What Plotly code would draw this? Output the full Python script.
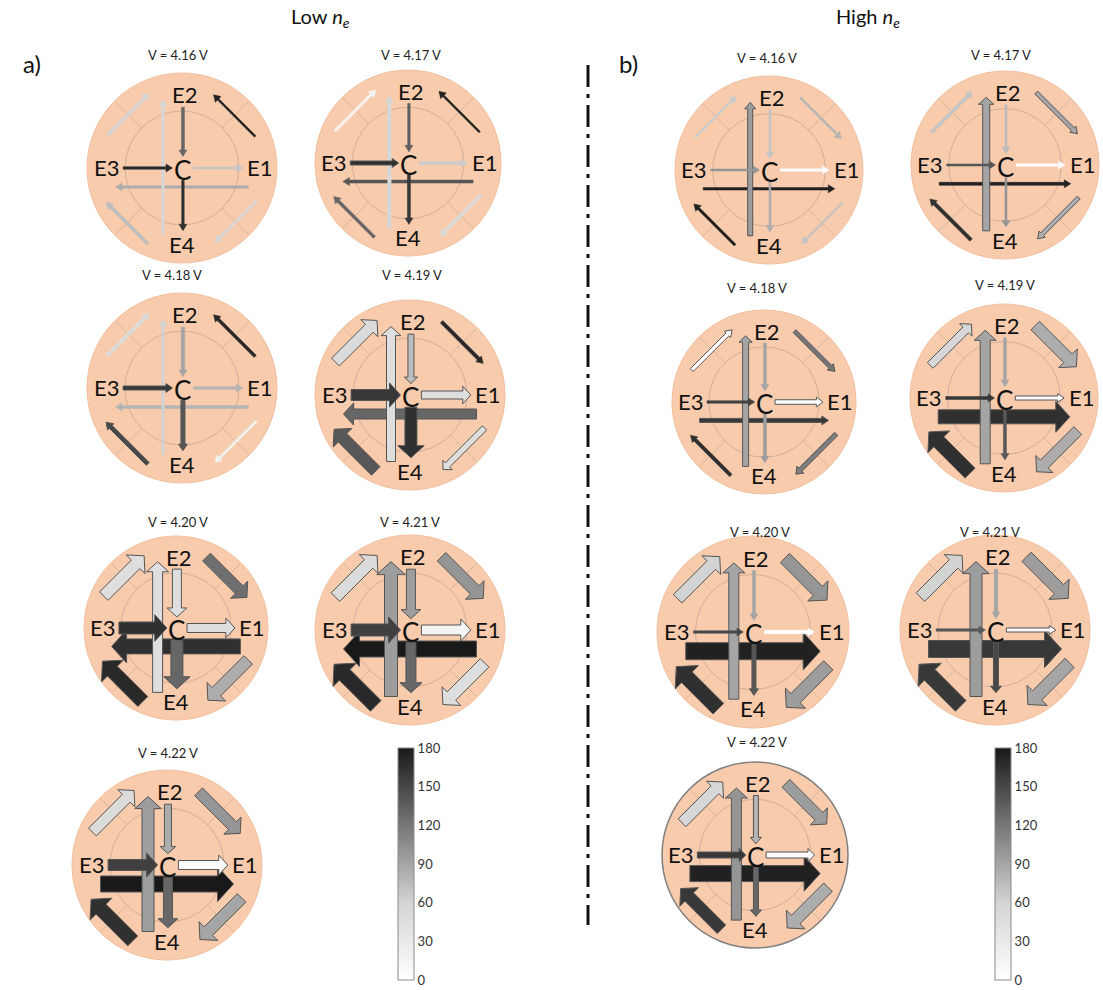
import math
import plotly.graph_objects as go
from plotly.colors import sample_colorscale

# ---------------- data ----------------
voltages = ["4.16", "4.17", "4.18", "4.19", "4.20", "4.21", "4.22"]
arrow_names = ["E3→C", "C→E1", "E2→C", "C→E4", "E1↔E3 (long)", "E4→E2 (long)",
               "E3→E2", "E1↔E2", "E1→E4", "E4→E3"]

# colour value (0-180) of each arrow, one row per voltage
low_values = [
    [170, 70, 130, 165, 85, 55, 60, 175, 55, 75],
    [165, 65, 135, 160, 140, 55, 15, 175, 50, 130],
    [160, 80, 90, 140, 80, 60, 50, 170, 20, 150],
    [160, 45, 75, 165, 130, 45, 50, 170, 45, 140],
    [165, 45, 45, 130, 165, 45, 45, 125, 85, 170],
    [155, 15, 95, 130, 180, 95, 50, 100, 45, 170],
    [155, 5, 85, 130, 180, 95, 50, 100, 90, 165],
]
# arrow thickness (px)
low_widths = [
    [2.5, 2, 3, 2.5, 2.5, 2.5, 3, 2, 2.5, 3],
    [4, 3, 2.5, 3, 3, 3.5, 2.5, 2, 3, 3],
    [4, 2.5, 3.5, 4, 3, 2.5, 3.5, 3, 2.5, 4],
    [11, 8, 6, 12, 10, 9, 11, 3.5, 6, 12],
    [12, 9, 9, 12, 15, 10, 12, 11, 12, 14],
    [12, 10, 9, 10, 16, 13, 12, 12, 12, 15],
    [11, 9, 7, 9, 16, 12, 11, 11, 12, 14],
]
# direction of long horizontal arrow (+1: E3→E1, -1: E1→E3)
low_lh_dir = [-1, -1, -1, -1, -1, -1, 1]
# direction of upper-right arrow (+1: E2→E1, -1: E1→E2)
low_ur_dir = [-1, -1, -1, 1, 1, 1, 1]

high_values = [
    [100, 5, 70, 85, 175, 95, 65, 80, 70, 175],
    [140, 5, 75, 100, 175, 90, 70, 90, 85, 165],
    [155, 0, 90, 95, 160, 90, 0, 120, 115, 165],
    [160, 0, 90, 140, 165, 90, 55, 85, 85, 165],
    [150, 0, 90, 140, 175, 90, 60, 100, 95, 165],
    [140, 5, 90, 150, 160, 95, 60, 95, 90, 160],
    [160, 5, 80, 130, 175, 100, 55, 95, 85, 160],
]
high_widths = [
    [2, 2.5, 2, 2, 2.5, 5, 2, 2, 2, 2.5],
    [2, 2.5, 2, 2, 3, 7, 3, 4, 4, 3.5],
    [2.5, 4.5, 3, 3, 4, 6, 4, 4, 4.5, 3.5],
    [3, 4, 3, 3, 14, 10, 8, 12, 11, 14],
    [2.5, 3.5, 3, 4, 17, 10, 12, 13, 13, 15],
    [2.5, 4, 3.5, 5, 17, 12, 12, 13, 13, 15],
    [6, 6, 5, 5, 16, 10, 11, 11, 12, 12],
]
high_lh_dir = [1, 1, 1, 1, 1, 1, 1]
high_ur_dir = [1, 1, 1, 1, 1, 1, 1]

cbar_ticks = [0, 30, 60, 90, 120, 150, 180]

# ---------------- layout constants ----------------
W, H = 1103, 990
FONT = "Lato"
CSCALE = [[0, "rgb(255,255,255)"], [0.33, "rgb(212,212,212)"], [0.5, "rgb(165,165,165)"],
          [0.75, "rgb(95,95,95)"], [1, "rgb(25,25,25)"]]
VMAX = 180.0

LOW_POS = [(182, 168, 95), (408, 163, 93), (182, 388, 95), (410, 395, 95),
           (176, 628, 92), (410, 630, 95), (167, 865, 95)]
LOW_TITLE = [(178, 55), (411, 55), (172, 275), (412, 275), (178, 522), (410, 522), (168, 753)]
HIGH_POS = [(769, 170, 94), (1005, 165, 94), (764, 402, 92), (1004, 398, 94),
            (753, 632, 96), (995, 630, 95), (755, 855, 93)]
HIGH_TITLE = [(767, 58), (1001, 55), (757, 288), (1005, 285), (760, 532), (990, 532), (757, 742)]

s2 = 1 / math.sqrt(2)


def diag(angle_deg, dist, tdir, half=0.31):
    a = math.radians(angle_deg)
    mx, my = dist * math.cos(a), dist * math.sin(a)
    return ((mx - half * tdir[0], my - half * tdir[1]), (mx + half * tdir[0], my + half * tdir[1]))


def geometry(lh_dir, ur_dir):
    lh = ((0.70, -0.20), (-0.70, -0.20)) if lh_dir < 0 else ((-0.70, -0.20), (0.70, -0.20))
    ur = diag(45, 0.78, (s2, -s2)) if ur_dir > 0 else diag(45, 0.78, (-s2, s2))
    return [
        ((-0.62, 0.0), (-0.10, 0.0)),
        ((0.12, 0.0), (0.64, 0.0)),
        ((0.01, 0.64), (0.01, 0.12)),
        ((0.01, -0.13), (0.01, -0.66)),
        lh,
        ((-0.20, -0.70), (-0.20, 0.72)),
        diag(135, 0.80, (s2, s2)),
        ur,
        diag(-45, 0.80, (-s2, -s2)),
        diag(225, 0.82, (-s2, s2)),
    ]


def arrow_poly(sx, sy, tx, ty, w):
    dx, dy = tx - sx, ty - sy
    L = math.hypot(dx, dy)
    ux, uy = dx / L, dy / L
    nx, ny = -uy, ux
    hw = w / 2
    hh = max(1.1 * w, 4.0)
    hl = max(1.0 * w, 6.5)
    bx, by = tx - ux * hl, ty - uy * hl
    pts = [(sx + nx * hw, sy + ny * hw), (bx + nx * hw, by + ny * hw), (bx + nx * hh, by + ny * hh),
           (tx, ty), (bx - nx * hh, by - ny * hh), (bx - nx * hw, by - ny * hw),
           (sx - nx * hw, sy - ny * hw), (sx + nx * hw, sy + ny * hw)]
    return [p[0] for p in pts], [p[1] for p in pts]


fig = go.Figure()
shapes = []
annotations = []

DRAW_ORDER = [4, 5, 0, 1, 2, 3, 6, 7, 8, 9]


def panel(pos, title_pos, vals, widths, lh_dir, ur_dir, volt, regime, dark_edge=False):
    cx, cy, R = pos
    shapes.append(dict(type="circle", xref="x", yref="y", x0=cx - R, x1=cx + R, y0=cy - R, y1=cy + R,
                       fillcolor="#F8CBAD", line=dict(color="#7f7f7f" if dark_edge else "#F2BE9C",
                                                      width=1.5 if dark_edge else 1), layer="below"))
    ri = 0.6 * R
    shapes.append(dict(type="circle", xref="x", yref="y", x0=cx - ri, x1=cx + ri, y0=cy - ri, y1=cy + ri,
                       line=dict(color="rgba(160,140,125,0.45)", width=1), layer="below"))
    for ang in (45, 135, 225, 315):
        a = math.radians(ang)
        shapes.append(dict(type="line", xref="x", yref="y",
                           x0=cx + 0.6 * R * math.cos(a), y0=cy - 0.6 * R * math.sin(a),
                           x1=cx + 0.99 * R * math.cos(a), y1=cy - 0.99 * R * math.sin(a),
                           line=dict(color="rgba(160,140,125,0.35)", width=1), layer="below"))
    geo = geometry(lh_dir, ur_dir)
    for k in DRAW_ORDER:
        (sx, sy), (tx, ty) = geo[k]
        px, py = arrow_poly(cx + sx * R, cy - sy * R, cx + tx * R, cy - ty * R, widths[k])
        col = sample_colorscale(CSCALE, [vals[k] / VMAX])[0]
        outline = widths[k] >= 4
        fig.add_trace(go.Scatter(
            x=px, y=py, mode="lines", fill="toself", fillcolor=col,
            line=dict(color="#555555" if outline else col, width=1 if outline else 0.5),
            hoverinfo="text", text=f"{regime}, V = {volt} V, {arrow_names[k]}: {vals[k]}",
            showlegend=False))
    lab = [("E1", 0.82, 0.01, 22), ("E2", 0.03, 0.77, 22), ("E3", -0.80, 0.01, 22),
           ("E4", 0.0, -0.80, 22), ("C", 0.0, -0.02, 26)]
    for t, lx, ly, fs in lab:
        annotations.append(dict(x=cx + lx * R, y=cy - ly * R, xref="x", yref="y", text=t, showarrow=False,
                                font=dict(family=FONT, size=fs, color="#111111")))
    annotations.append(dict(x=title_pos[0], y=title_pos[1], xref="x", yref="y", text=f"V = {volt} V",
                            showarrow=False, font=dict(family=FONT, size=13, color="#222222")))


for i, v in enumerate(voltages):
    panel(LOW_POS[i], LOW_TITLE[i], low_values[i], low_widths[i], low_lh_dir[i], low_ur_dir[i], v, "Low ne")
for i, v in enumerate(voltages):
    panel(HIGH_POS[i], HIGH_TITLE[i], high_values[i], high_widths[i], high_lh_dir[i], high_ur_dir[i], v,
          "High ne", dark_edge=(i == 6))

# colour bars
for x0 in (398, 995):
    fig.add_trace(go.Scatter(
        x=[-50, -50], y=[-50, -50], mode="markers", showlegend=False, hoverinfo="skip",
        marker=dict(color=[0, 180], cmin=0, cmax=180, colorscale=CSCALE, showscale=True,
                    colorbar=dict(x=x0 / W, xanchor="left", y=(H - 864) / H, yanchor="middle",
                                  len=232 / H, lenmode="fraction", thickness=16, thicknessmode="pixels",
                                  outlinewidth=1, outlinecolor="#8a8a8a", tickvals=cbar_ticks,
                                  ticktext=[str(t) for t in cbar_ticks],
                                  ticks="", tickfont=dict(family=FONT, size=13, color="#333333"),
                                  ticklabeloverflow="allow", xpad=0, ypad=0))))

# divider
shapes.append(dict(type="line", xref="x", yref="y", x0=588, x1=588, y0=65, y1=925,
                   line=dict(color="#111111", width=3, dash="22px,7px,4px,7px")))

annotations += [
    dict(x=320, y=17, xref="x", yref="y", text="Low <i>n</i><sub><i>e</i></sub>", showarrow=False,
         font=dict(family=FONT, size=20, color="#111111")),
    dict(x=868, y=17, xref="x", yref="y", text="High <i>n</i><sub><i>e</i></sub>", showarrow=False,
         font=dict(family=FONT, size=20, color="#111111")),
    dict(x=32, y=63, xref="x", yref="y", text="a)", showarrow=False,
         font=dict(family=FONT, size=24, color="#111111")),
    dict(x=628, y=63, xref="x", yref="y", text="b)", showarrow=False,
         font=dict(family=FONT, size=24, color="#111111")),
]

fig.update_layout(
    width=W, height=H, autosize=False, margin=dict(l=0, r=0, t=0, b=0),
    paper_bgcolor="white", plot_bgcolor="white",
    xaxis=dict(range=[0, W], visible=False, fixedrange=True),
    yaxis=dict(range=[H, 0], visible=False, fixedrange=True),
    shapes=shapes, annotations=annotations, showlegend=False,
)
fig.write_html("out.html")
